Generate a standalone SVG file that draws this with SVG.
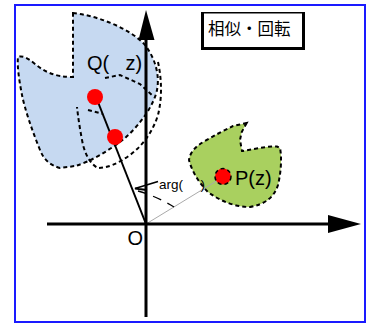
<svg xmlns="http://www.w3.org/2000/svg" width="370" height="327" viewBox="0 0 370 327">
<style>
.lbl{font-family:"Liberation Sans",Arial,sans-serif;fill:#000}
.dash{fill:none;stroke:#000;stroke-width:2;stroke-dasharray:4 3}
.blue{fill:#c6d9f1;stroke:#000;stroke-width:2;stroke-dasharray:4 3}
.green{fill:#a9d05f;stroke:#000;stroke-width:2;stroke-dasharray:4 3}
.axis{stroke:#000;stroke-width:3;fill:none}
.dot{fill:#ff0000}
</style>
<rect x="0" y="0" width="370" height="327" fill="#fff"/>
<rect id="frame" x="15" y="5" width="350" height="317" fill="none" stroke="#1a1aff" stroke-width="2"/>

<g id="shapeQ">
<path class="blue" d="M73,13 C95,15 130,28 145,45 C155,58 160,75 157,90 C154,105 140,125 125,138 C110,150 90,162 75,166 L60,168 C50,165 44,160 40,150 C32,130 25,110 22,95 C19,80 17,65 18,57 C22,55 28,58 35,64 C45,72 55,77 73,77 Z"/>
<path class="dash" d="M105,78 L120,75 L140,84 L153,96"/>
<path class="dash" d="M158,62 Q164,90 158,115 Q150,140 130,155 Q112,168 98,168 Q88,163 83,145 Q79,125 77,107"/>
<path class="dash" d="M88,110 L103,114"/>
</g>

<g id="shapeP">
<path class="green" d="M246.7,123 L241.7,132 L240,140 L242,151 C250,150 265,146 277,146.5 L280,148 C282,158 281,172 278,185 C274,197 266,204 250,207 C235,207 220,201 208,192 C200,184 192,172 189,160 C190,152 196,146 205,141 C215,135 225,130 233,126 Z"/>
</g>

<g id="connectors">
<line x1="146" y1="224" x2="223" y2="177" stroke="#aaaaaa" stroke-width="1"/>
<line x1="96" y1="97" x2="146" y2="224" stroke="#000" stroke-width="2"/>
<polyline points="158,181.5 135,188.5 147,190" fill="none" stroke="#000" stroke-width="1.8"/>
<path d="M138,191 Q156,196 174,207" fill="none" stroke="#000" stroke-width="1.3" stroke-dasharray="9 7"/>
</g>

<g id="axes">
<line class="axis" x1="146" y1="317" x2="146" y2="36"/>
<polygon points="146,10 138.5,40 154.5,40" fill="#000"/>
<line class="axis" x1="47" y1="224" x2="332" y2="224"/>
<polygon points="361,224 328,215 328,233" fill="#000"/>
</g>

<g id="pointQ">
<circle class="dot" cx="95" cy="97" r="8"/>
<text class="lbl" x="87" y="70" font-size="20">Q(</text>
<text class="lbl" x="125.5" y="70" font-size="20">z)</text>
</g>
<g id="pointQ2">
<circle class="dot" cx="115" cy="137" r="8"/>
</g>
<g id="pointP">
<circle class="dot" cx="223" cy="176.5" r="8" stroke="#000" stroke-width="1.5" stroke-dasharray="4 3"/>
<text class="lbl" x="235" y="185" font-size="20">P(z)</text>
</g>
<g id="origin">
<text class="lbl" x="127.5" y="245" font-size="20">O</text>
</g>
<g id="angle">
<text class="lbl" x="159" y="188.5" font-size="13.5">arg(</text>
<text class="lbl" x="200.5" y="189" font-size="13.5">)</text>
</g>

<g id="title">
<rect x="201" y="12" width="104" height="38" fill="#000"/>
<rect x="204" y="13.5" width="98" height="33.5" fill="#fff"/>
<text x="208" y="35" font-size="16.5" font-family="'Noto Sans CJK JP','Noto Sans CJK SC',sans-serif" fill="#000">相似・回転</text>
</g>
</svg>
